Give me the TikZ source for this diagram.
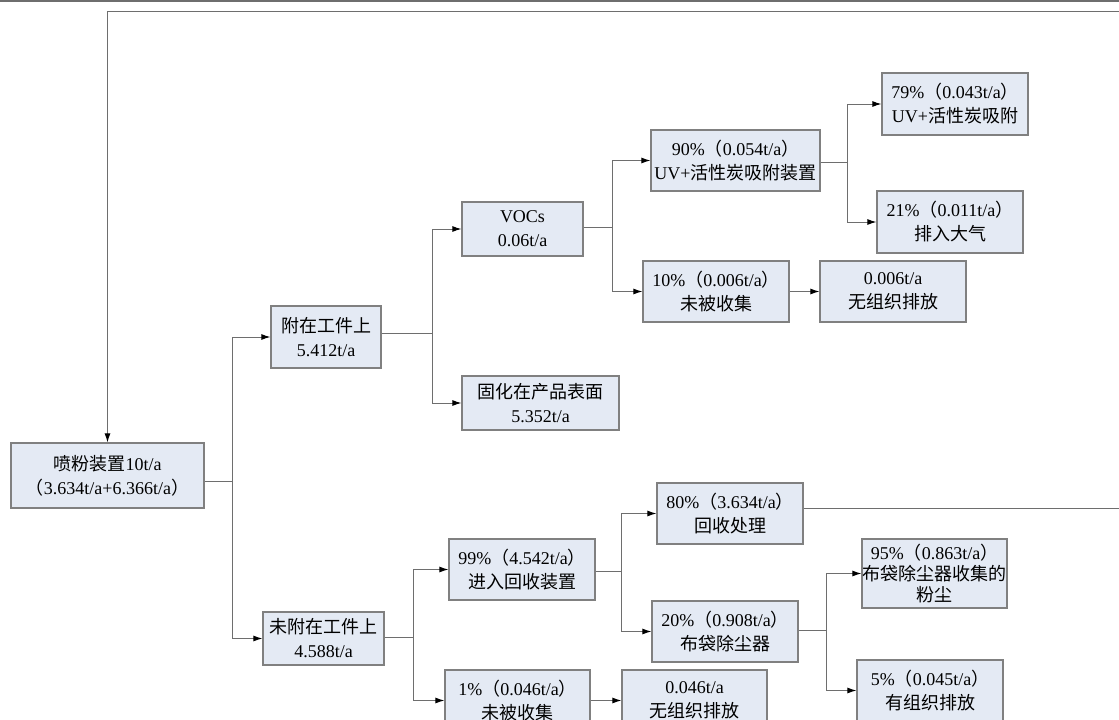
\documentclass[tikz,border=0pt]{standalone}
\usepackage{fontspec}
\setmainfont{Liberation Serif}
\newfontfamily\cjkfont{Noto Sans CJK SC}
\newcommand\zh[1]{{\cjkfont #1}}
\usetikzlibrary{arrows.meta}
\definecolor{boxfill}{HTML}{E4EAF4}
\definecolor{boxline}{HTML}{808080}
\definecolor{wire}{HTML}{6E6E6E}
\tikzset{
  box/.style={draw=boxline, line width=1.2pt, fill=boxfill, inner sep=0pt, align=center,
    font=\fontsize{18}{24}\selectfont},
  link/.style={draw=wire, line width=1pt},
  arr/.style={link, -{Latex[length=9pt,width=6pt,black]}},
}
\begin{document}
\begin{tikzpicture}[x=1pt,y=-1pt]
\useasboundingbox (0,0) rectangle (1119,720);
\clip (0,0) rectangle (1119,720);
\draw[link, line width=1.4pt] (0,1) -- (1119,1);

\node[box, minimum width=193, minimum height=65] (pf) at (107.5,475.5) {\zh{喷粉装置}10t/a\\\zh{（}3.634t/a+6.366t/a\zh{）}};
\node[box, minimum width=110, minimum height=62] (fz) at (326,337) {\zh{附在工件上}\\5.412t/a};
\node[box, minimum width=121, minimum height=53] (wf) at (323.5,638.5) {\zh{未附在工件上}\\4.588t/a};
\node[box, minimum width=121, minimum height=54] (voc) at (522.5,229) {VOCs\\0.06t/a};
\node[box, minimum width=157, minimum height=54] (gh) at (540.5,403) {\zh{固化在产品表面}\\5.352t/a};
\node[box, minimum width=169, minimum height=61] (uv) at (735.5,160.5) {90\%\zh{（}0.054t/a\zh{）}\\UV+\zh{活性炭吸附装置}};
\node[box, minimum width=146, minimum height=61] (wb1) at (716,291.5) {10\%\zh{（}0.006t/a\zh{）}\\\zh{未被收集}};
\node[box, minimum width=146, minimum height=61] (wz1) at (893,291.5) {0.006t/a\\\zh{无组织排放}};
\node[box, minimum width=146, minimum height=62] (h79) at (955,104) {79\%\zh{（}0.043t/a\zh{）}\\UV+\zh{活性炭吸附}};
\node[box, minimum width=146, minimum height=62] (h21) at (950,222) {21\%\zh{（}0.011t/a\zh{）}\\\zh{排入大气}};
\node[box, minimum width=146, minimum height=61] (h99) at (522,569.5) {99\%\zh{（}4.542t/a\zh{）}\\\zh{进入回收装置}};
\node[box, minimum width=145, minimum height=61] (h1) at (517.5,700.5) {1\%\zh{（}0.046t/a\zh{）}\\\zh{未被收集}};
\node[box, minimum width=145, minimum height=61] (wz2) at (694.5,700.5) {0.046t/a\\\zh{无组织排放}};
\node[box, minimum width=146, minimum height=61] (h80) at (730,513.5) {80\%\zh{（}3.634t/a\zh{）}\\\zh{回收处理}};
\node[box, minimum width=146, minimum height=61] (h20) at (725,631.5) {20\%\zh{（}0.908t/a\zh{）}\\\zh{布袋除尘器}};
\node[box, minimum width=145, minimum height=69, font=\fontsize{18}{21}\selectfont] (h95) at (934.5,573.5) {95\%\zh{（}0.863t/a\zh{）}\\\zh{布袋除尘器收集的}\\\zh{粉尘}};
\node[box, minimum width=146, minimum height=61] (h5) at (930,690.5) {5\%\zh{（}0.045t/a\zh{）}\\\zh{有组织排放}};

\coordinate (j1) at (232,481);
\coordinate (j2) at (432,333);
\coordinate (j3) at (612,227);
\coordinate (j4) at (847,162);
\coordinate (j5) at (413,637);
\coordinate (j6) at (621,571);
\coordinate (j7) at (826,630);
\coordinate (e1) at (1130,508);
\coordinate (e2) at (1130,11);

\draw[link] (pf.east |- j1) -- (j1);
\draw[arr] (j1) |- (fz.west);
\draw[arr] (j1) |- (wf.west);
\draw[link] (fz.east |- j2) -- (j2);
\draw[arr] (j2) |- (voc.west);
\draw[arr] (j2) |- (gh.west);
\draw[link] (voc.east |- j3) -- (j3);
\draw[arr] (j3) |- (uv.west);
\draw[arr] (j3) |- (wb1.west);
\draw[arr] (wb1) -- (wz1);
\draw[link] (uv.east |- j4) -- (j4);
\draw[arr] (j4) |- (h79.west);
\draw[arr] (j4) |- (h21.west);
\draw[link] (wf.east |- j5) -- (j5);
\draw[arr] (j5) |- (h99.west);
\draw[arr] (j5) |- (h1.west);
\draw[arr] (h1) -- (wz2);
\draw[link] (h99.east |- j6) -- (j6);
\draw[arr] (j6) |- (h80.west);
\draw[arr] (j6) |- (h20.west);
\draw[link] (h20.east |- j7) -- (j7);
\draw[arr] (j7) |- (h95.west);
\draw[arr] (j7) |- (h5.west);
\draw[arr] (h80.east |- e1) -- (e1) -- (e2) -| (pf.north);
\end{tikzpicture}
\end{document}
